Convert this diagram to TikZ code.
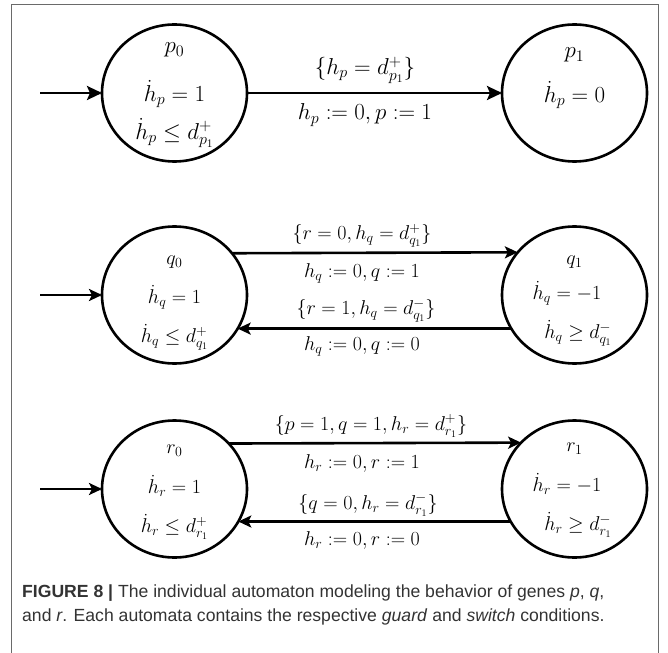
\RequirePackage{fix-cm}
\documentclass[tikz,border=0pt]{standalone}
\usepackage{fontspec}
\setsansfont{Liberation Sans}
\usetikzlibrary{shapes.geometric,arrows.meta}
\definecolor{frame}{HTML}{6A6A6A}
\definecolor{captxt}{HTML}{333333}
\begin{document}
\begin{tikzpicture}[x=1pt,y=-1pt,
  state/.style={ellipse,draw,line width=2.6pt,minimum width=145pt,minimum height=137pt,inner sep=0pt,outer sep=0pt},
  bigedge/.style={line width=2.6pt,-{Stealth[length=15pt,width=14pt,inset=3pt]}},
  smalledge/.style={line width=2.6pt,-{Stealth[length=13pt,width=12pt,inset=3pt]}},
  big/.style={font=\fontsize{23}{25}\selectfont,inner sep=0pt},
  mid/.style={font=\fontsize{20}{22}\selectfont,inner sep=0pt},
  captext/.style={font=\sffamily\fontsize{17.6}{20}\selectfont,text=captxt,anchor=base west,inner sep=0pt}]
\useasboundingbox (0,0) rectangle (668,652);
\draw[frame,line width=1pt] (11,660) -- (11,5) -- (658,5) -- (658,660);

% ---- p automaton
\node[state] (p0) at (174.5,93) {};
\node[state] (p1) at (574.5,93) {};
\coordinate (p0in) at (40,93);
\draw[bigedge] (p0in) -- (p0);
\draw[bigedge] (p0) -- (p1);
\node[big] (pg) at (365,70) {$\{h_p = d^{+}_{p_1}\}$};
\node[big] (ps) at (365,115) {$h_p := 0, p := 1$};
\node[big] (p0n) at (174.5,50) {$p_0$};
\node[big] (p0a) at (174.5,94) {$\dot{h}_p = 1$};
\node[big] (p0b) at (174.5,133) {$\dot{h}_p \le d^{+}_{p_1}$};
\node[big] (p1n) at (574.5,55) {$p_1$};
\node[big] (p1a) at (574.5,95) {$\dot{h}_p = 0$};

% ---- q automaton
\node[state] (q0) at (174.5,295) {};
\node[state] (q1) at (574.5,295) {};
\coordinate (q0in) at (40,295);
\draw[smalledge] (q0in) -- (q0);
\draw[smalledge] (q0.36.3) -- (q1.143.7);
\draw[smalledge] (q1.208.4) -- (q0.-28.4);
\node[mid] (qg1) at (362,236) {$\{r = 0, h_q = d^{+}_{q_1}\}$};
\node[mid] (qs1) at (362,273) {$h_q := 0, q := 1$};
\node[mid] (qg2) at (366,311) {$\{r = 1, h_q = d^{-}_{q_1}\}$};
\node[mid] (qs2) at (362,346) {$h_q := 0, q := 0$};
\node[mid] (q0n) at (174.5,262) {$q_0$};
\node[mid] (q0a) at (174.5,297) {$\dot{h}_q = 1$};
\node[mid] (q0b) at (174.5,337) {$\dot{h}_q \le d^{+}_{q_1}$};
\node[mid] (q1n) at (574.5,262) {$q_1$};
\node[mid] (q1a) at (567,293) {$\dot{h}_q = -1$};
\node[mid] (q1b) at (578,333) {$\dot{h}_q \ge d^{-}_{q_1}$};

% ---- r automaton
\node[state] (r0) at (174.5,489) {};
\node[state] (r1) at (574.5,489) {};
\coordinate (r0in) at (40,489);
\draw[smalledge] (r0in) -- (r0);
\draw[smalledge] (r0.40.6) -- (r1.139.4);
\draw[smalledge] (r1.207.5) -- (r0.-27.5);
\node[mid] (rg1) at (371,426) {$\{p = 1, q = 1, h_r = d^{+}_{r_1}\}$};
\node[mid] (rs1) at (362,463) {$h_r := 0, r := 1$};
\node[mid] (rg2) at (368,505) {$\{q = 0, h_r = d^{-}_{r_1}\}$};
\node[mid] (rs2) at (362,540) {$h_r := 0, r := 0$};
\node[mid] (r0n) at (174.5,451) {$r_0$};
\node[mid] (r0a) at (174.5,486) {$\dot{h}_r = 1$};
\node[mid] (r0b) at (174.5,527) {$\dot{h}_r \le d^{+}_{r_1}$};
\node[mid] (r1n) at (574.5,449) {$r_1$};
\node[mid] (r1a) at (567,484) {$\dot{h}_r = -1$};
\node[mid] (r1b) at (578,525) {$\dot{h}_r \ge d^{-}_{r_1}$};

% ---- caption
\node[captext] (cap1) at (22,597) {{\bfseries FIGURE 8 |} The individual automaton modeling the behavior of genes \textit{p}, \textit{q},};
\node[captext] (cap2) at (22,621) {and \textit{r}. Each automata contains the respective \textit{guard} and \textit{switch} conditions.};
\end{tikzpicture}
\end{document}
